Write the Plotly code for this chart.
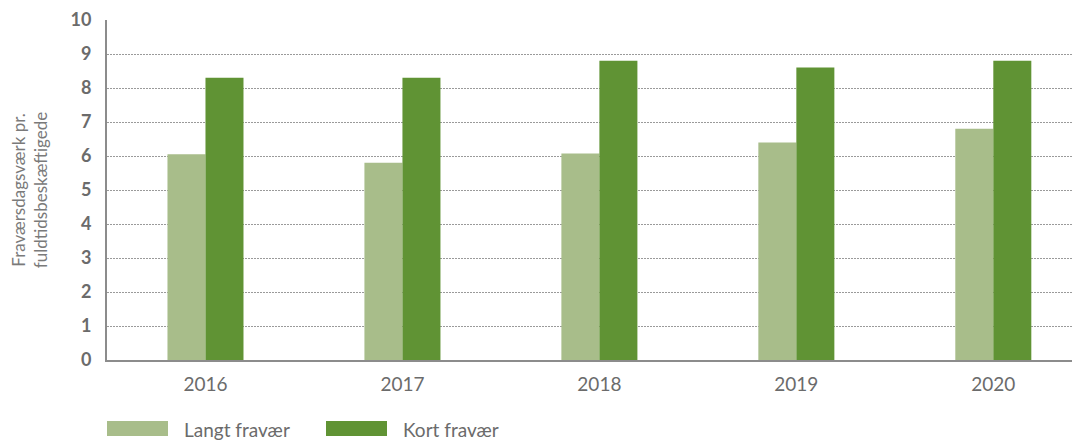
import plotly.graph_objects as go

years = ["2016", "2017", "2018", "2019", "2020"]
langt = [6.05, 5.8, 6.07, 6.4, 6.8]
kort = [8.3, 8.3, 8.8, 8.6, 8.8]
series_names = ["Langt fravær", "Kort fravær"]
colors = ["#a8bd8a", "#609334"]
y_ticks = list(range(0, 11))

# plot area in figure pixels
PL, PR, PT, PB = 99, 1070, 12, 352
PW, PH = PR - PL, PB - PT

fig = go.Figure()
fig.add_trace(go.Bar(x=years, y=langt, name=series_names[0], marker_color=colors[0], marker_line_width=0))
fig.add_trace(go.Bar(x=years, y=kort, name=series_names[1], marker_color=colors[1], marker_line_width=0))

fig.update_layout(
    width=1080, height=440,
    margin=dict(l=PL, r=1080 - PR, t=PT, b=440 - PB, autoexpand=False),
    paper_bgcolor="white", plot_bgcolor="white",
    barmode="group", bargap=0.614, bargroupgap=0,
    showlegend=False,
    font=dict(family="Lato, Open Sans, sans-serif", color="#6b6b6b"),
)
fig.update_xaxes(
    type="category", range=[-0.5, 4.43],
    showline=True, linecolor="#8c8c8c", linewidth=2,
    showgrid=False, ticks="", ticklen=0,
    tickfont=dict(size=19, color="#6b6b6b"),
    ticklabelstandoff=6,
)
fig.update_yaxes(
    range=[0, 10], tickvals=y_ticks,
    showline=True, linecolor="#8c8c8c", linewidth=2,
    showgrid=True, gridcolor="#9a9a9a", gridwidth=1, griddash="2px,1px",
    zeroline=False,
    tickfont=dict(size=18, color="#6b6b6b", weight="bold"),
    ticks="", ticklabelstandoff=10,
    title=dict(text="Fraværsdagsværk pr.<br>fuldtidsbeskæftigede", font=dict(size=17, color="#7a7a7a"), standoff=22),
)

# custom legend (large swatches)
legend_x = [99, 318]
for i, name in enumerate(series_names):
    x0 = legend_x[i]
    fig.add_shape(type="rect", xref="paper", yref="paper",
                  x0=(x0 - PL) / PW, x1=(x0 + 61 - PL) / PW,
                  y0=-(428 - PB) / PH, y1=-(413 - PB) / PH,
                  fillcolor=colors[i], line_width=0)
    fig.add_annotation(xref="paper", yref="paper",
                       x=(x0 + 75 - PL) / PW, y=-(421 - PB) / PH,
                       text=name, showarrow=False, xanchor="left", yanchor="middle",
                       font=dict(size=19, color="#6b6b6b"))

fig.write_html("out.html")
